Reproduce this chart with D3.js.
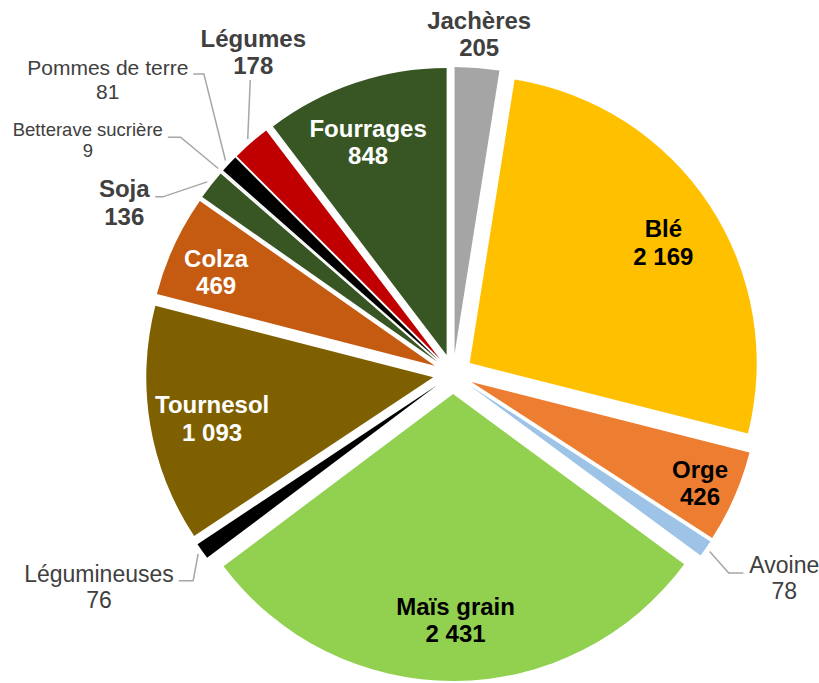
<!DOCTYPE html>
<html>
<head>
<meta charset="utf-8">
<script src="https://cdn.jsdelivr.net/npm/d3@7"></script>
<style>
  body { margin: 0; background: #fff; }
  text { font-family: "Liberation Sans", Arial, sans-serif; }
</style>
</head>
<body>
<script>
// surfaces (milliers d'ha)
const categories = ['Jachères', 'Blé', 'Orge', 'Avoine', 'Maïs grain', 'Légumineuses',
    'Tournesol', 'Colza', 'Soja', 'Betterave sucrière', 'Pommes de terre', 'Légumes', 'Fourrages'];
const values = [205, 2169, 426, 78, 2431, 76, 1093, 469, 136, 9, 81, 178, 848];
const colors = ['#A5A5A5', '#FFC000', '#ED7D31', '#9DC3E6', '#92D050', '#000000',
    '#7F6000', '#C55A11', '#375623', '#F2F2F2', '#000000', '#C00000', '#375623'];

// label layout: polar position of the label block (deg from top, px from centre)
const labelAngle  = [4.4, 58.0, 113.8, 121.6, 179.4, 239.0, 259.5, 293.3, 297.6, 302.7, 310.5, 328.2, 339.9];
const labelRadius = [341, 248, 270, 389, 246, 413, 245, 258, 371, 434, 454, 379, 247];
const labelSize   = [24, 24, 24, 23, 24, 23, 24, 24, 24, 18.5, 21, 24, 24];
const labelBold   = [1, 1, 1, 0, 1, 0, 1, 1, 1, 0, 0, 1, 1];
const labelColor  = ['#404040', '#000', '#000', '#404040', '#000', '#404040',
    '#fff', '#fff', '#404040', '#404040', '#404040', '#404040', '#fff'];
// leader lines: index, elbow angle, elbow radius, side of the tail
const leaders = [
    [3, 125.8, 340, 'left'],
    [5, 231.5, 332, 'right'],
    [8, 301.4, 340, 'right'],
    [9, 311.0, 361, 'right'],
    [10, 320.3, 390, 'right'],
    [11, 325.4, 357, 'none']
];

let width = 819,
    height = 683;
let cx = 453, cy = 374;
let radius = 287;
let explode = 20;

let svg = d3.select('body')
    .append('svg')
    .attr('width', width)
    .attr('height', height);

let g = svg.append('g')
    .attr('transform', 'translate(' + cx + ',' + cy + ')');

let pie = d3.pie().sort(null).value(d => d)(values);
let arc = d3.arc().innerRadius(0).outerRadius(radius);

let rad = a => a * Math.PI / 180;
let polar = (a, r) => [r * Math.sin(a), -r * Math.cos(a)];

// slices, each pulled out along its bisector
g.selectAll('path.slice')
    .data(pie)
    .enter()
    .append('path')
    .attr('class', 'slice')
    .attr('d', arc)
    .attr('fill', (d, i) => colors[i])
    .attr('transform', d => {
        let p = polar((d.startAngle + d.endAngle) / 2, explode);
        return 'translate(' + p[0] + ',' + p[1] + ')';
    });

let fmt = v => d3.format(',')(v).replace(/,/g, ' ');

// labels
let labels = g.selectAll('g.lab')
    .data(pie)
    .enter()
    .append('g')
    .attr('class', 'lab');

labels.each(function (d, i) {
    let fs = labelSize[i];
    let lh = fs * 1.15;
    let p = polar(rad(labelAngle[i]), labelRadius[i]);
    let b1 = p[1] + (fs * 0.716 - lh) / 2;
    let t = d3.select(this).append('text')
        .attr('text-anchor', 'middle')
        .attr('font-size', fs + 'px')
        .attr('font-weight', labelBold[i] ? 'bold' : 'normal')
        .attr('fill', labelColor[i]);
    t.append('tspan').attr('x', p[0]).attr('y', b1).text(categories[i]);
    t.append('tspan').attr('x', p[0]).attr('y', b1 + lh).text(fmt(values[i]));
});

// leader lines
leaders.forEach(function (l) {
    let i = l[0];
    let d = pie[i];
    let s = polar((d.startAngle + d.endAngle) / 2, explode + radius + 5);
    let e = polar(rad(l[1]), l[2]);
    let pts = [s, e];
    if (l[3] !== 'none') {
        let node = labels.nodes()[i].querySelector('tspan');
        let bb = node.getBBox();
        let tx = l[3] === 'left' ? bb.x - 6 : bb.x + bb.width + 5;
        pts.push([tx, e[1]]);
    }
    g.append('polyline')
        .attr('points', pts.map(p => p.join(',')).join(' '))
        .attr('fill', 'none')
        .attr('stroke', '#A6A6A6')
        .attr('stroke-width', 1.5);
});
</script>
</body>
</html>
